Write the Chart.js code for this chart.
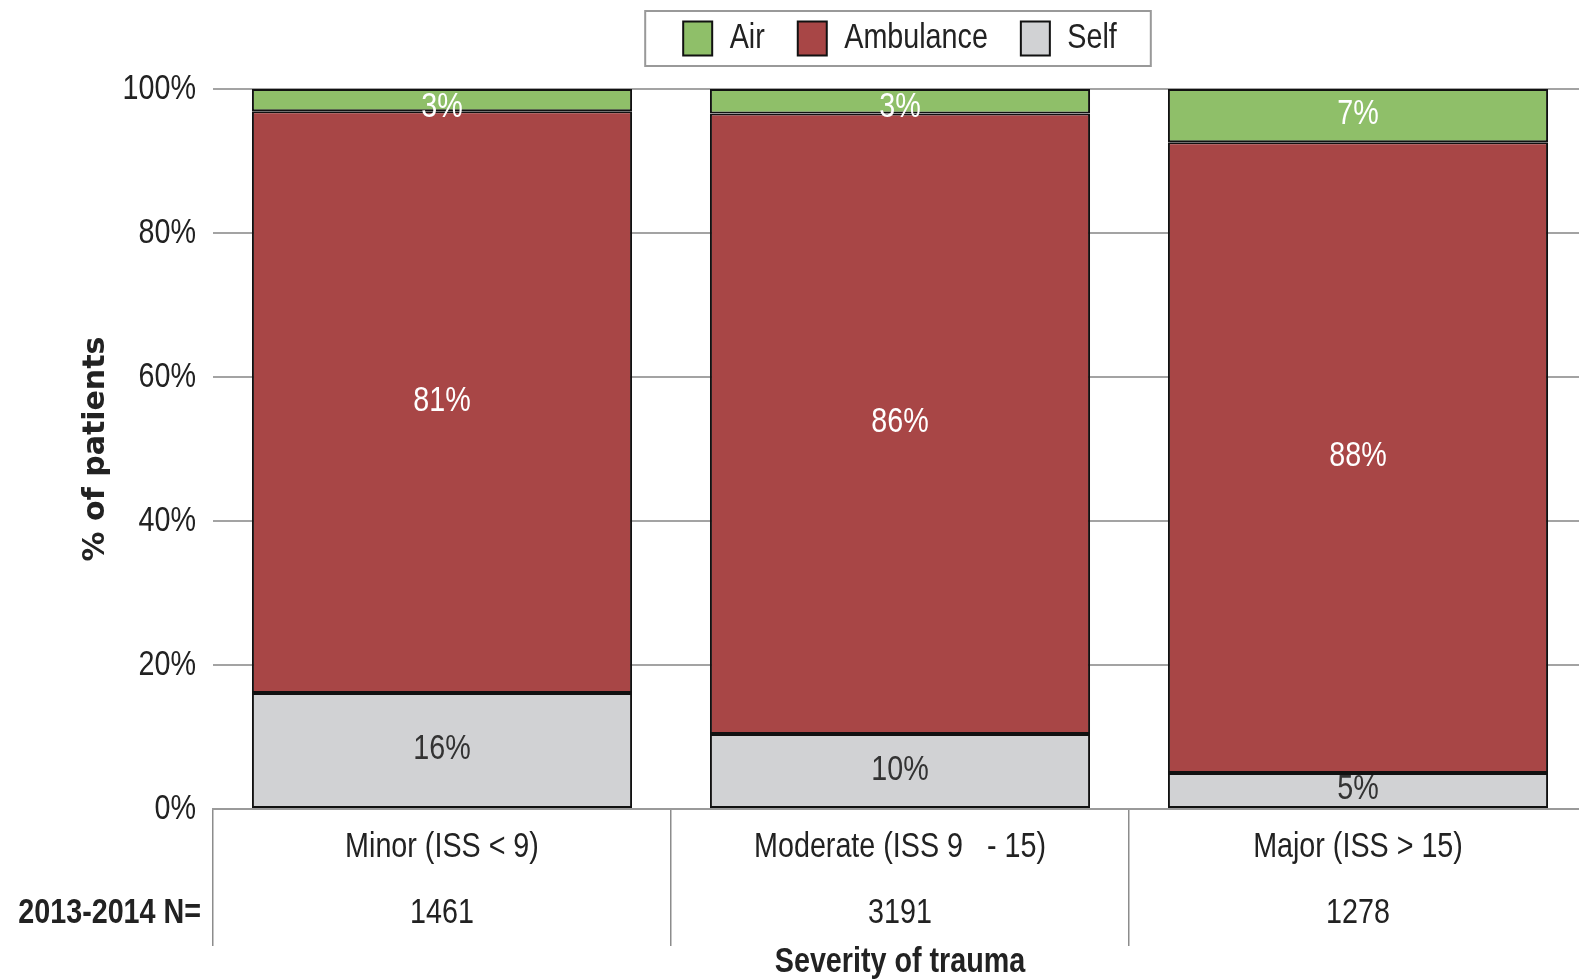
<!DOCTYPE html>
<html><head><meta charset="utf-8">
<script src="https://cdn.jsdelivr.net/npm/chart.js@4/dist/chart.umd.min.js"></script>
<style>html,body{margin:0;padding:0;overflow:hidden;background:#fff;} canvas{display:block;}</style>
</head><body>
<canvas id="c" width="1587" height="979"></canvas>
<script>
const categories = ['Minor (ISS < 9)', 'Moderate (ISS 9   - 15)', 'Major (ISS > 15)'];
const sampleSizes = ['1461', '3191', '1278'];
const selfValues = [16.1, 10.4, 5.0];
const ambulanceValues = [80.8, 86.2, 87.6];
const airValues = [3.1, 3.4, 7.4];
const yTicks = [0, 20, 40, 60, 80, 100];
const nRowLabel = '2013-2014 N=';
const xTitle = 'Severity of trauma';
const yTitle = '% of patients';

// Narrow rendering of Liberation Sans text (emulates Arial Narrow, which is not installed)
const NARROW_X = 0.82;
(function () {
  const P = CanvasRenderingContext2D.prototype;
  const origFill = P.fillText, origMeasure = P.measureText;
  const isNarrow = ctx => ctx.font.indexOf('Liberation Sans') >= 0;
  P.fillText = function (t, x, y, mw) {
    if (!isNarrow(this)) return mw === undefined ? origFill.call(this, t, x, y) : origFill.call(this, t, x, y, mw);
    this.save();
    this.translate(x, y);
    this.scale(NARROW_X, 1);
    if (mw === undefined) origFill.call(this, t, 0, 0); else origFill.call(this, t, 0, 0, mw / NARROW_X);
    this.restore();
  };
  P.measureText = function (t) {
    const m = origMeasure.call(this, t);
    if (!isNarrow(this)) return m;
    return {
      width: m.width * NARROW_X,
      actualBoundingBoxAscent: m.actualBoundingBoxAscent,
      actualBoundingBoxDescent: m.actualBoundingBoxDescent,
      actualBoundingBoxLeft: m.actualBoundingBoxLeft * NARROW_X,
      actualBoundingBoxRight: m.actualBoundingBoxRight * NARROW_X,
      fontBoundingBoxAscent: m.fontBoundingBoxAscent,
      fontBoundingBoxDescent: m.fontBoundingBoxDescent
    };
  };
})();

const NARROW = "'Liberation Sans', Arial, sans-serif";
const TEXT = '#222';
const labelColors = ['#333333', '#ffffff', '#ffffff'];

const extras = {
  id: 'extras',
  afterInit(chart) {
    const lg = chart.legend;
    if (lg && !lg._patched) {
      const orig = lg.fit.bind(lg);
      lg.fit = function () { orig(); this.height = 101; };
      lg._patched = true;
    }
  },
  afterDatasetsDraw(chart) {
    const ctx = chart.ctx;
    ctx.save();
    ctx.font = '35px ' + NARROW;
    ctx.textAlign = 'center';
    ctx.textBaseline = 'middle';
    chart.data.datasets.forEach((ds, i) => {
      const meta = chart.getDatasetMeta(i);
      meta.data.forEach((bar, j) => {
        const v = ds.data[j];
        const top = Math.min(bar.y, bar.base), bottom = Math.max(bar.y, bar.base);
        let y = (top + bottom) / 2 - 1;
        y = Math.max(y, chart.chartArea.top + 18);
        ctx.fillStyle = labelColors[i];
        ctx.fillText(Math.round(v) + '%', bar.x, y);
      });
    });
    ctx.restore();
  },
  afterDraw(chart) {
    const ctx = chart.ctx;
    ctx.save();
    const hb = chart.legend.legendHitBoxes;
    if (hb && hb.length) {
      const l = Math.min(...hb.map(b => b.left)) - 38;
      const r = Math.max(...hb.map(b => b.left + b.width)) + 34;
      const t = Math.min(...hb.map(b => b.top)) - 10;
      const bt = Math.max(...hb.map(b => b.top + b.height)) + 10;
      ctx.strokeStyle = '#999';
      ctx.lineWidth = 2;
      ctx.strokeRect(l, t, r - l, bt - t);
    }
    ctx.font = 'bold 35px ' + NARROW;
    ctx.fillStyle = TEXT;
    ctx.textAlign = 'right';
    ctx.textBaseline = 'middle';
    ctx.fillText(nRowLabel, 201, 913);
    ctx.restore();
  }
};

new Chart(document.getElementById('c'), {
  type: 'bar',
  data: {
    labels: categories,
    datasets: [
      { label: 'Self', data: selfValues, backgroundColor: '#d1d2d4', borderColor: '#111', borderWidth: 2, borderSkipped: false },
      { label: 'Ambulance', data: ambulanceValues, backgroundColor: '#a84646', borderColor: '#111', borderWidth: 2, borderSkipped: false },
      { label: 'Air', data: airValues, backgroundColor: '#8fbf69', borderColor: '#111', borderWidth: 2, borderSkipped: false }
    ]
  },
  options: {
    responsive: false,
    animation: false,
    layout: { padding: { top: -12, left: 0, right: 0, bottom: 0 } },
    datasets: { bar: { categoryPercentage: 1, barPercentage: 0.83 } },
    plugins: {
      legend: {
        position: 'top',
        fullSize: false,
        reverse: true,
        labels: { font: { size: 35, family: NARROW }, color: TEXT, boxWidth: 29, boxHeight: 34, padding: 33 }
      },
      tooltip: { enabled: false }
    },
    scales: {
      x: {
        stacked: true,
        afterFit(s) { s.height = 170; },
        grid: { offset: true, drawOnChartArea: false, drawTicks: true, tickLength: 137, color: '#8c8c8c', lineWidth: 1.5 },
        border: { display: true, color: '#9a9a9a', width: 2 },
        ticks: {
          padding: -132,
          maxRotation: 0,
          autoSkip: false,
          color: TEXT,
          font: { size: 35, family: NARROW, lineHeight: 1.886 },
          callback: (v, i) => [categories[i], sampleSizes[i]]
        },
        title: { display: true, text: xTitle, color: TEXT, font: { size: 35, family: NARROW, weight: 'bold' }, padding: { top: 0, bottom: -4 } }
      },
      y: {
        stacked: true,
        min: 0, max: 100,
        afterFit(s) { s.width = 213; },
        afterBuildTicks(s) { s.ticks = yTicks.map(v => ({ value: v })); },
        grid: { color: '#a3a3a3', lineWidth: 2, drawTicks: false },
        border: { display: false },
        ticks: { padding: 17, color: TEXT, font: { size: 35, family: NARROW }, callback: v => v + '%' },
        title: { display: true, text: yTitle, color: TEXT, font: { size: 30, family: 'DejaVu Sans', weight: 'bold' }, padding: { top: 78, bottom: 0 } }
      }
    }
  },
  plugins: [extras]
});
</script>
</body></html>
